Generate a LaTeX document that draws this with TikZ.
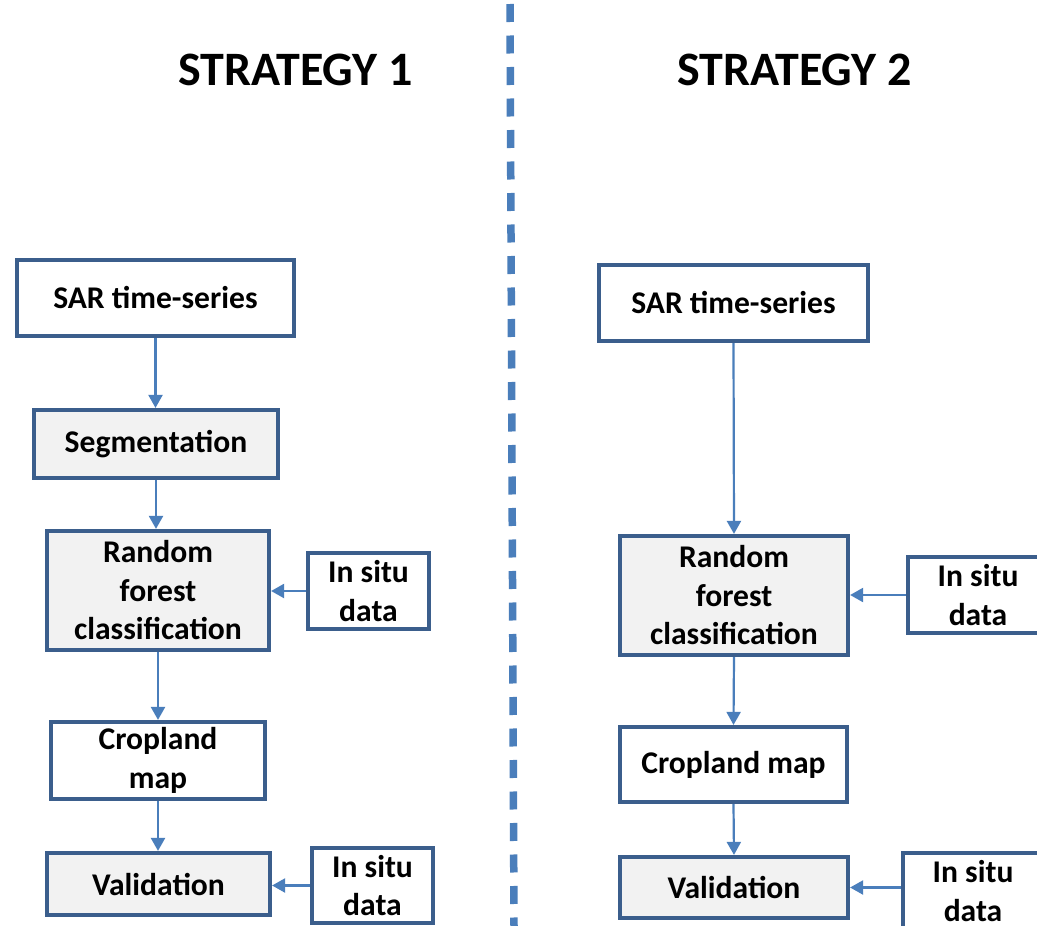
\documentclass[tikz,border=0pt]{standalone}
\usepackage{fontspec}
\setmainfont{Carlito}
\usetikzlibrary{arrows.meta}
\definecolor{boxline}{HTML}{3B5E8C}
\definecolor{arrowblue}{HTML}{4A7EBB}
\definecolor{boxfill}{HTML}{F2F2F2}
\begin{document}
\begin{tikzpicture}[x=1pt,y=-1pt,
  box/.style={draw=boxline, line width=4.2pt, fill=white, inner sep=0pt,
    align=center, font=\fontsize{31.6}{38.5}\selectfont\bfseries},
  procbox/.style={box, fill=boxfill},
  arr/.style={draw=arrowblue, line width=2.2pt,
    -{Triangle[width=14pt,length=13pt]}},
  title/.style={anchor=base, font=\fontsize{48}{58}\selectfont\bfseries}]
\clip (0,0) rectangle (1037,926);
\fill[white] (0,0) rectangle (1037,926);

% column separator
\draw[arrowblue, line width=7.5pt, dash pattern=on 18pt off 13.5pt]
  (510,4) -- (514,926);

% headings
\node[title] (t1) at (295.5,85) {STRATEGY 1};
\node[title] (t2) at (794.5,85) {STRATEGY 2};

% strategy 1
\node[box, minimum width=277pt, minimum height=76pt] (sar1) at (155.5,298) {SAR time-series};
\node[procbox, minimum width=244pt, minimum height=68pt] (seg1) at (156,444) {Segmentation};
\node[procbox, minimum width=222pt, minimum height=119pt] (rf1) at (158,590.5) {Random\\forest\\classification};
\node[box, minimum width=121pt, minimum height=76pt] (is1) at (368.5,591) {In situ\\data};
\node[box, minimum width=214pt, minimum height=77pt] (crop1) at (158,760.5) {Cropland\\map};
\node[procbox, minimum width=223pt, minimum height=62pt] (val1) at (158.5,884) {Validation};
\node[box, minimum width=121pt, minimum height=75pt] (is2) at (372.5,885.5) {In situ\\data};

\draw[arr] (sar1.south) -- (seg1.north -| sar1.south);
\draw[arr] (seg1.south) -- (rf1.north -| seg1.south);
\draw[arr] (rf1.south) -- (crop1.north);
\draw[arr] (crop1.south) -- (val1.north -| crop1.south);
\draw[arr] (is1.west) -- (rf1.east |- is1.west);
\draw[arr] (is2.west) -- (val1.east |- is2.west);

% strategy 2
\node[box, minimum width=269pt, minimum height=76pt] (sar2) at (733.5,303) {SAR time-series};
\node[procbox, minimum width=228pt, minimum height=119pt] (rf2) at (734,595.5) {Random\\forest\\classification};
\node[box, minimum width=140pt, minimum height=76pt] (is3) at (978,595) {In situ\\data};
\node[box, minimum width=227pt, minimum height=75pt] (crop2) at (733.5,764.5) {Cropland map};
\node[procbox, minimum width=228pt, minimum height=61pt] (val2) at (734,887.5) {Validation};
\node[box, minimum width=140pt, minimum height=76pt] (is4) at (973,891) {In situ\\data};

\draw[arr] (sar2.south) -- (rf2.north);
\draw[arr] (rf2.south) -- (crop2.north);
\draw[arr] (crop2.south) -- (val2.north);
\draw[arr] (is3.west) -- (rf2.east |- is3.west);
\draw[arr] (is4.west |- val2.east) -- (val2.east);
\end{tikzpicture}
\end{document}
